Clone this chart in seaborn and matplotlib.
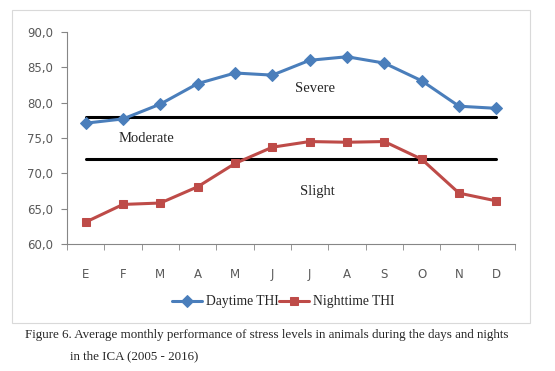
import pandas as pd
import matplotlib.pyplot as plt
import seaborn as sns
from matplotlib.patches import Rectangle
from matplotlib.ticker import FuncFormatter

meses = ['E', 'F', 'M', 'A', 'M', 'J', 'J', 'A', 'S', 'O', 'N', 'D']
thi_dia = [77.1, 77.7, 79.8, 82.7, 84.2, 83.9, 86.0, 86.5, 85.6, 83.1, 79.5, 79.2]
thi_noite = [63.1, 65.6, 65.8, 68.1, 71.4, 73.7, 74.5, 74.4, 74.5, 72.0, 67.2, 66.1]
limites = [78, 72]

df = pd.DataFrame({'mes': range(len(meses)), 'Daytime THI': thi_dia, 'Nighttime THI': thi_noite})

sns.set_style('white')
plt.rcParams['font.family'] = ['DejaVu Sans']

fig = plt.figure(figsize=(5.55, 3.71), dpi=100)
ax = fig.add_axes([0.1207, 0.3423, 0.8073, 0.5714])

# borda do grafico
fig.patches.append(Rectangle((12 / 555, 1 - 323 / 371), 518 / 555, 313 / 371,
                             transform=fig.transFigure, fill=False,
                             edgecolor='#d9d9d9', linewidth=0.8))

# limites de estresse
for y in limites:
    ax.plot([0, 11], [y, y], color='black', linewidth=2.2, zorder=2)

sns.lineplot(data=df, x='mes', y='Daytime THI', ax=ax, color='#4a7ebb', marker='D',
             markersize=6, markeredgecolor='#4a7ebb', linewidth=2.2, label='Daytime THI', zorder=3)
sns.lineplot(data=df, x='mes', y='Nighttime THI', ax=ax, color='#be4b48', marker='s',
             markersize=6, markeredgecolor='#be4b48', linewidth=2.2, label='Nighttime THI', zorder=3)

serif = ['Liberation Serif', 'DejaVu Serif']
ax.text(6.15, 82.0, 'Severe', family=serif, fontsize=10.5, ha='center', va='center')
ax.text(1.64, 74.9, 'Moderate', family=serif, fontsize=10.5, ha='center', va='center')
ax.text(6.2, 67.4, 'Slight', family=serif, fontsize=10.5, ha='center', va='center')

ax.set_xlim(-0.5, 11.5)
ax.set_ylim(60, 90)
ax.set_yticks(range(60, 91, 5))
ax.yaxis.set_major_formatter(FuncFormatter(lambda v, p: f'{v:.1f}'.replace('.', ',')))
ax.set_xticks(range(12))
ax.set_xticklabels(meses)
ax.set_xticks([i - 0.5 for i in range(13)], minor=True)
ax.tick_params(axis='x', which='major', length=0, pad=17, labelsize=8.5, labelcolor='#595959')
ax.tick_params(axis='x', which='minor', length=4, color='#868686', direction='out')
ax.tick_params(axis='y', length=4, color='#868686', direction='out', labelsize=8.5, labelcolor='#595959', pad=6)
ax.xaxis.set_ticks_position('bottom')
ax.yaxis.set_ticks_position('left')
ax.set_xlabel('')
ax.set_ylabel('')
for lado in ['top', 'right']:
    ax.spines[lado].set_visible(False)
for lado in ['left', 'bottom']:
    ax.spines[lado].set_color('#868686')
    ax.spines[lado].set_linewidth(0.8)

ax.legend(loc='center', bbox_to_anchor=(283 / 555, 1 - 302 / 371), bbox_transform=fig.transFigure,
          ncol=2, frameon=False, prop={'family': serif, 'size': 9.8},
          handlelength=2.2, handletextpad=0.3, columnspacing=0.0, borderaxespad=0)

fig.text(25 / 555, 1 - 335 / 371,
         'Figure 6. Average monthly performance of stress levels in animals during the days and nights',
         family=serif, fontsize=9.4, va='center')
fig.text(70 / 555, 1 - 356 / 371, 'in the ICA (2005 - 2016)', family=serif, fontsize=9.4, va='center')

fig.savefig('out.png', dpi=100)
